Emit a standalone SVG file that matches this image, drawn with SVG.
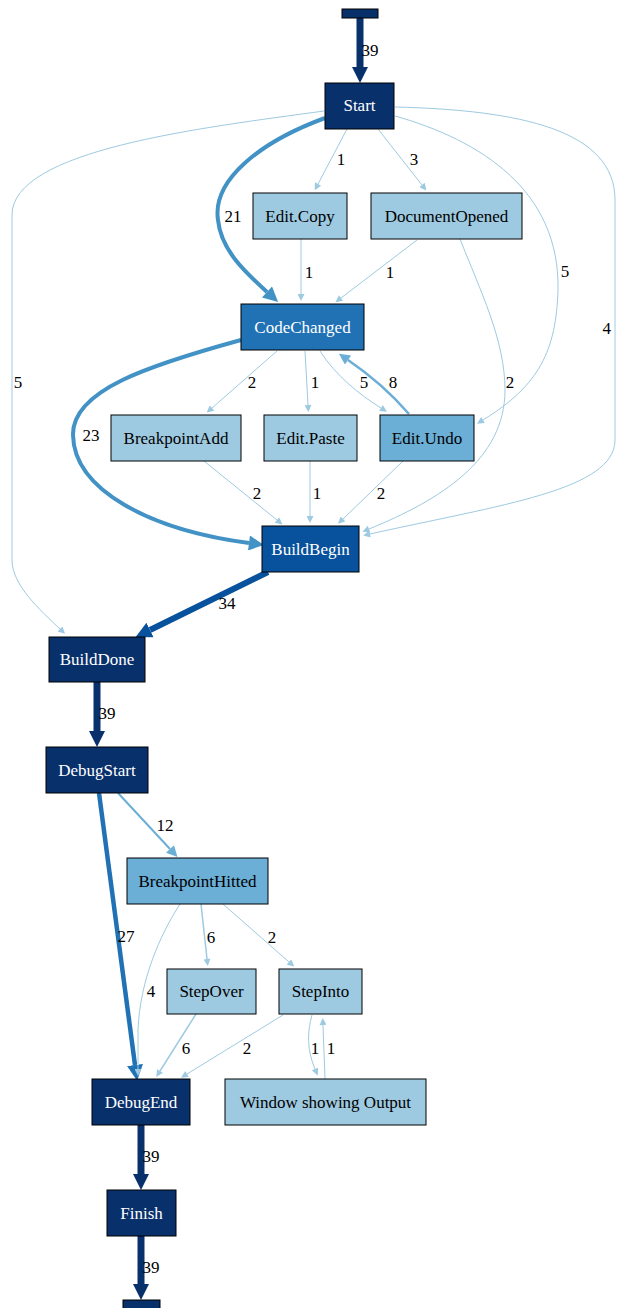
<svg xmlns="http://www.w3.org/2000/svg" width="618" height="1308" viewBox="0 0 618 1308">
<style>
text{font-family:"Liberation Serif","Times New Roman",serif;font-size:17px}
.n rect{stroke:#000;stroke-width:1}
.d rect{fill:#08306b}.b rect{fill:#08519c}.c rect{fill:#2171b5}.m rect{fill:#6baed6}.l rect{fill:#9ecae1}
.d text,.b text,.c text{fill:#fff}
.n text{text-anchor:middle}
#edges path{fill:none;stroke-linecap:butt}
.e1{stroke:#9ecae1;stroke-width:1}
.e1b{stroke:#9ecae1;stroke-width:1.5}
.e8{stroke:#6baed6;stroke-width:2.5}
.e12{stroke:#6baed6;stroke-width:2}
.e21{stroke:#4292c6;stroke-width:4}
.e27{stroke:#2171b5;stroke-width:4.5}
.e34{stroke:#08519c;stroke-width:6}
.e39{stroke:#08306b;stroke-width:7}
.lb{text-anchor:middle;fill:#000}
</style>
<defs>
<marker id="a1" markerUnits="userSpaceOnUse" viewBox="0 0 10 10" refX="0" refY="5" markerWidth="10" markerHeight="7" orient="auto"><path d="M0,0L10,5L0,10z" fill="#9ecae1"/></marker>
<marker id="a12" markerUnits="userSpaceOnUse" viewBox="0 0 10 10" refX="0" refY="5" markerWidth="13" markerHeight="11" orient="auto"><path d="M0,0L10,5L0,10z" fill="#6baed6"/></marker>
<marker id="a21" markerUnits="userSpaceOnUse" viewBox="0 0 10 10" refX="0" refY="5" markerWidth="16" markerHeight="15" orient="auto"><path d="M0,0L10,5L0,10z" fill="#4292c6"/></marker>
<marker id="a27" markerUnits="userSpaceOnUse" viewBox="0 0 10 10" refX="0" refY="5" markerWidth="16" markerHeight="16" orient="auto"><path d="M0,0L10,5L0,10z" fill="#2171b5"/></marker>
<marker id="a34" markerUnits="userSpaceOnUse" viewBox="0 0 10 10" refX="0" refY="5" markerWidth="16" markerHeight="20" orient="auto"><path d="M0,0L10,5L0,10z" fill="#08519c"/></marker>
<marker id="a39" markerUnits="userSpaceOnUse" viewBox="0 0 10 10" refX="0" refY="5" markerWidth="16" markerHeight="22" orient="auto"><path d="M0,0L10,5L0,10z" fill="#08306b"/></marker>
</defs>
<rect width="618" height="1308" fill="#fff"/>
<g id="edges">
<path class="e39" d="M360,18L360,67" marker-end="url(#a39)"/>
<text class="lb" x="370" y="56">39</text>
<path class="e21" d="M325,118C260,142 212,180 218,220C221,250 245,272 267,292" marker-end="url(#a21)"/>
<text class="lb" x="233" y="222">21</text>
<path class="e1" d="M347,129L318,184" marker-end="url(#a1)"/>
<text class="lb" x="341" y="165">1</text>
<path class="e1" d="M378,129L422,185" marker-end="url(#a1)"/>
<text class="lb" x="414" y="165">3</text>
<path class="e1" d="M324,111C200,128 12,150 12,215L12,560C12,585 40,610 60,629" marker-end="url(#a1)"/>
<text class="lb" x="18" y="388">5</text>
<path class="e1" d="M395,116C480,140 560,190 558,290C556,350 540,385 483,420" marker-end="url(#a1)"/>
<text class="lb" x="565" y="277">5</text>
<path class="e1" d="M395,107C520,110 615,130 615,200L615,440C615,490 500,505 370,534" marker-end="url(#a1)"/>
<text x="611" y="334" text-anchor="end">4</text>
<path class="e1" d="M301,239L301,294" marker-end="url(#a1)"/>
<text class="lb" x="309" y="278">1</text>
<path class="e1" d="M417,240L341,298" marker-end="url(#a1)"/>
<text class="lb" x="390" y="278">1</text>
<path class="e1" d="M460,239C480,290 505,340 505,390C505,460 440,500 369,529" marker-end="url(#a1)"/>
<text class="lb" x="510" y="388">2</text>
<path class="e21" d="M241,340C150,365 72,390 73,435C74,490 150,530 249,543" marker-end="url(#a21)"/>
<text class="lb" x="91" y="441">23</text>
<path class="e1" d="M277,351L212,408" marker-end="url(#a1)"/>
<text class="lb" x="252" y="388">2</text>
<path class="e1" d="M305,351L308,405" marker-end="url(#a1)"/>
<text class="lb" x="315" y="388">1</text>
<path class="e1" d="M320,351C335,375 360,395 381,408" marker-end="url(#a1)"/>
<text class="lb" x="364" y="388">5</text>
<path class="e8" d="M409,414C390,392 370,375 348,360" marker-end="url(#a12)"/>
<text class="lb" x="393" y="388">8</text>
<path class="e1" d="M204,461L277,520" marker-end="url(#a1)"/>
<text class="lb" x="257" y="499">2</text>
<path class="e1" d="M310,461L310,516" marker-end="url(#a1)"/>
<text class="lb" x="317" y="499">1</text>
<path class="e1" d="M403,461L343,519" marker-end="url(#a1)"/>
<text class="lb" x="381" y="499">2</text>
<path class="e34" d="M268,572L150,630" marker-end="url(#a34)"/>
<text class="lb" x="227" y="609">34</text>
<path class="e39" d="M97,682L97,731" marker-end="url(#a39)"/>
<text class="lb" x="107" y="719">39</text>
<path class="e12" d="M118,793L170,849" marker-end="url(#a12)"/>
<text class="lb" x="165" y="831">12</text>
<path class="e27" d="M99,793L135,1065" marker-end="url(#a27)"/>
<text class="lb" x="126" y="942">27</text>
<path class="e1" d="M180,904C160,935 140,980 138,1030L138,1069" marker-end="url(#a1)"/>
<text class="lb" x="151" y="997">4</text>
<path class="e1b" d="M201,904L207,959" marker-end="url(#a1)"/>
<text class="lb" x="211" y="943">6</text>
<path class="e1" d="M223,904L289,962" marker-end="url(#a1)"/>
<text class="lb" x="272" y="943">2</text>
<path class="e1b" d="M196,1014L160,1071" marker-end="url(#a1)"/>
<text class="lb" x="186" y="1054">6</text>
<path class="e1" d="M283,1015L187,1074" marker-end="url(#a1)"/>
<text class="lb" x="247" y="1054">2</text>
<path class="e1" d="M312,1015C307,1033 307,1050 315,1069" marker-end="url(#a1)"/>
<text class="lb" x="315" y="1054">1</text>
<path class="e1" d="M325,1079L323,1025" marker-end="url(#a1)"/>
<text class="lb" x="331" y="1054">1</text>
<path class="e39" d="M141,1125L141,1174" marker-end="url(#a39)"/>
<text class="lb" x="151" y="1162">39</text>
<path class="e39" d="M141,1236L141,1284" marker-end="url(#a39)"/>
<text class="lb" x="151" y="1273">39</text>
</g>
<g id="source" class="n d"><rect x="342" y="9" width="36" height="9"/></g>
<g id="Start" class="n d"><rect x="325" y="83" width="69" height="46"/><text x="359.5" y="111">Start</text></g>
<g id="EditCopy" class="n l"><rect x="253" y="193" width="94" height="46"/><text x="300" y="222">Edit.Copy</text></g>
<g id="DocumentOpened" class="n l"><rect x="371" y="193" width="151" height="46"/><text x="446.5" y="222">DocumentOpened</text></g>
<g id="CodeChanged" class="n c"><rect x="241" y="304" width="123" height="46"/><text x="302.5" y="333">CodeChanged</text></g>
<g id="BreakpointAdd" class="n l"><rect x="111" y="415" width="130" height="46"/><text x="176" y="444">BreakpointAdd</text></g>
<g id="EditPaste" class="n l"><rect x="264" y="415" width="93" height="46"/><text x="310.5" y="444">Edit.Paste</text></g>
<g id="EditUndo" class="n m"><rect x="380" y="415" width="94" height="46"/><text x="427" y="444">Edit.Undo</text></g>
<g id="BuildBegin" class="n b"><rect x="262" y="526" width="97" height="46"/><text x="310.5" y="555">BuildBegin</text></g>
<g id="BuildDone" class="n d"><rect x="49" y="637" width="96" height="45"/><text x="97" y="665">BuildDone</text></g>
<g id="DebugStart" class="n d"><rect x="46" y="747" width="102" height="46"/><text x="97" y="776">DebugStart</text></g>
<g id="BreakpointHitted" class="n m"><rect x="127" y="858" width="141" height="46"/><text x="197.5" y="887">BreakpointHitted</text></g>
<g id="StepOver" class="n l"><rect x="167" y="969" width="89" height="45"/><text x="211.5" y="997">StepOver</text></g>
<g id="StepInto" class="n l"><rect x="279" y="969" width="83" height="45"/><text x="320.5" y="997">StepInto</text></g>
<g id="DebugEnd" class="n d"><rect x="92" y="1079" width="98" height="46"/><text x="141" y="1108">DebugEnd</text></g>
<g id="WindowShowingOutput" class="n l"><rect x="225" y="1079" width="201" height="46"/><text x="325.5" y="1108">Window showing Output</text></g>
<g id="Finish" class="n d"><rect x="107" y="1190" width="69" height="46"/><text x="141.5" y="1219">Finish</text></g>
<g id="sink" class="n d"><rect x="123" y="1300" width="37" height="12"/></g>
</svg>
